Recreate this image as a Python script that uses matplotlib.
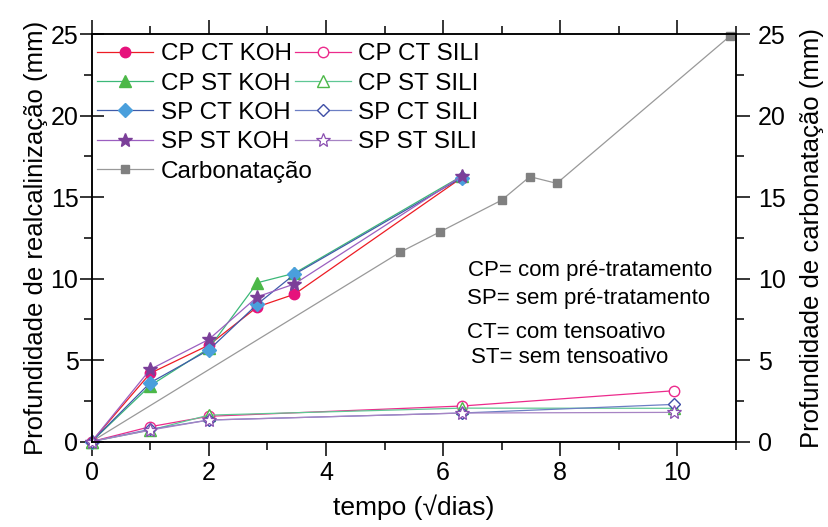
import matplotlib
matplotlib.use("Agg")
import matplotlib.pyplot as plt
from matplotlib.ticker import MultipleLocator

plt.rcParams['font.family'] = ['Liberation Sans', 'DejaVu Sans']

# tempo em raiz de dias
x_koh = [0, 1, 2, 2.83, 3.46, 6.32]
x_sili = [0, 1, 2, 6.32, 9.95]
x_carb = [0, 5.27, 5.95, 7.0, 7.48, 7.94, 10.9]

cp_ct_koh = [0, 4.19, 5.92, 8.27, 9.04, 16.2]
cp_st_koh = [0, 3.43, 5.72, 9.75, 10.33, 16.3]
sp_ct_koh = [0, 3.61, 5.62, 8.44, 10.26, 16.2]
sp_st_koh = [0, 4.43, 6.27, 8.89, 9.67, 16.3]

cp_ct_sili = [0, 0.91, 1.55, 2.18, 3.12]
cp_st_sili = [0, 0.70, 1.62, 2.05, 2.04]
sp_ct_sili = [0, 0.75, 1.32, 1.75, 2.28]
sp_st_sili = [0, 0.70, 1.32, 1.75, 1.79]

carbonatacao = [0, 11.63, 12.88, 14.82, 16.26, 15.85, 24.9]

notes = ["CP= com pré-tratamento", "SP= sem pré-tratamento",
         "CT= com tensoativo", "ST= sem tensoativo"]


def main():
    fig = plt.figure(figsize=(8.29, 5.27), dpi=100)
    ax = fig.add_axes([0.1106, 0.1622, 0.7772, 0.7727])

    lw = 0.9
    h = {}
    h["CP CT KOH"], = ax.plot(x_koh, cp_ct_koh, color="#ed1c24", lw=lw, marker="o", ms=7.5,
                              mfc="#e6127c", mec="#e6127c", clip_on=False, label="CP CT KOH")
    h["CP ST KOH"], = ax.plot(x_koh, cp_st_koh, color="#3cb878", lw=lw, marker="^", ms=8.5,
                              mfc="#4cb848", mec="#4cb848", clip_on=False, label="CP ST KOH")
    h["SP CT KOH"], = ax.plot(x_koh, sp_ct_koh, color="#3f5ba9", lw=lw, marker="D", ms=7,
                              mfc="#4a9fdc", mec="#4a9fdc", clip_on=False, label="SP CT KOH")
    h["SP ST KOH"], = ax.plot(x_koh, sp_st_koh, color="#9b5fc0", lw=lw, marker="*", ms=10.5,
                              mfc="#7b3f99", mec="#7b3f99", clip_on=False, label="SP ST KOH")

    h["CP CT SILI"], = ax.plot(x_sili, cp_ct_sili, color="#ec2b8c", lw=lw, marker="o", ms=7.5,
                               mfc="white", mec="#ec2b8c", clip_on=False, label="CP CT SILI")
    h["CP ST SILI"], = ax.plot(x_sili, cp_st_sili, color="#5fc794", lw=lw, marker="^", ms=8.5,
                               mfc="white", mec="#4cb848", clip_on=False, label="CP ST SILI")
    h["SP CT SILI"], = ax.plot(x_sili, sp_ct_sili, color="#6c7fc4", lw=lw, marker="D", ms=6.5,
                               mfc="white", mec="#3f4fa6", clip_on=False, label="SP CT SILI")
    h["SP ST SILI"], = ax.plot(x_sili, sp_st_sili, color="#a784c4", lw=lw, marker="*", ms=10.5,
                               mfc="white", mec="#8a4fb0", mew=0.9, clip_on=False, label="SP ST SILI")

    h["Carbonatação"], = ax.plot(x_carb, carbonatacao, color="#999999", lw=0.9, marker="s", ms=6,
                                 mfc="#808080", mec="#808080", clip_on=False, label="Carbonatação",
                                 zorder=1.5)

    ax.set_xlim(0, 11)
    ax.set_ylim(0, 25)
    ax.xaxis.set_major_locator(MultipleLocator(2))
    ax.xaxis.set_minor_locator(MultipleLocator(1))
    ax.yaxis.set_major_locator(MultipleLocator(5))
    ax.yaxis.set_minor_locator(MultipleLocator(2.5))

    ax2 = ax.twinx()
    ax2.set_ylim(0, 25)
    ax2.yaxis.set_major_locator(MultipleLocator(5))
    ax2.yaxis.set_minor_locator(MultipleLocator(2.5))

    for a in (ax, ax2):
        for s in a.spines.values():
            s.set_linewidth(1.1)

    ax.tick_params(axis="x", which="both", direction="out", top=True, labeltop=False,
                   width=1.1, labelsize=18, pad=4)
    ax.tick_params(axis="x", which="major", length=10)
    ax.tick_params(axis="x", which="minor", length=5.5)
    ax.tick_params(axis="y", which="major", direction="inout", length=17, width=1.1,
                   labelsize=18, pad=1)
    ax.tick_params(axis="y", which="minor", direction="out", length=5.5, width=1.1)
    ax2.tick_params(axis="y", which="major", direction="out", length=10, width=1.1,
                    labelsize=18, pad=6)
    ax2.tick_params(axis="y", which="minor", direction="out", length=5.5, width=1.1)

    ax.set_xlabel("tempo (√dias)", fontsize=19, labelpad=7)
    ax.set_ylabel("Profundidade de realcalinização (mm)", fontsize=18.5, labelpad=2)
    ax2.set_ylabel("Profundidade de carbonatação (mm)", fontsize=18.5, labelpad=10)

    order = ["CP CT KOH", "CP ST KOH", "SP CT KOH", "SP ST KOH", "Carbonatação",
             "CP CT SILI", "CP ST SILI", "SP CT SILI", "SP ST SILI"]
    ax.legend([h[k] for k in order], order, ncol=2, loc="upper left",
              bbox_to_anchor=(0.009, 0.978), frameon=False, fontsize=17.5,
              handlelength=2.3, handletextpad=0.3, columnspacing=-0.72,
              labelspacing=0.3, borderpad=0, borderaxespad=0, numpoints=1)

    note_pos = [(0.584, 0.421), (0.583, 0.350), (0.583, 0.267), (0.589, 0.206)]
    for (tx, ty), t in zip(note_pos, notes):
        ax.text(tx, ty, t, transform=ax.transAxes, fontsize=16, ha="left", va="center")

    fig.savefig("out.png", dpi=100)


if __name__ == '__main__':
    main()
